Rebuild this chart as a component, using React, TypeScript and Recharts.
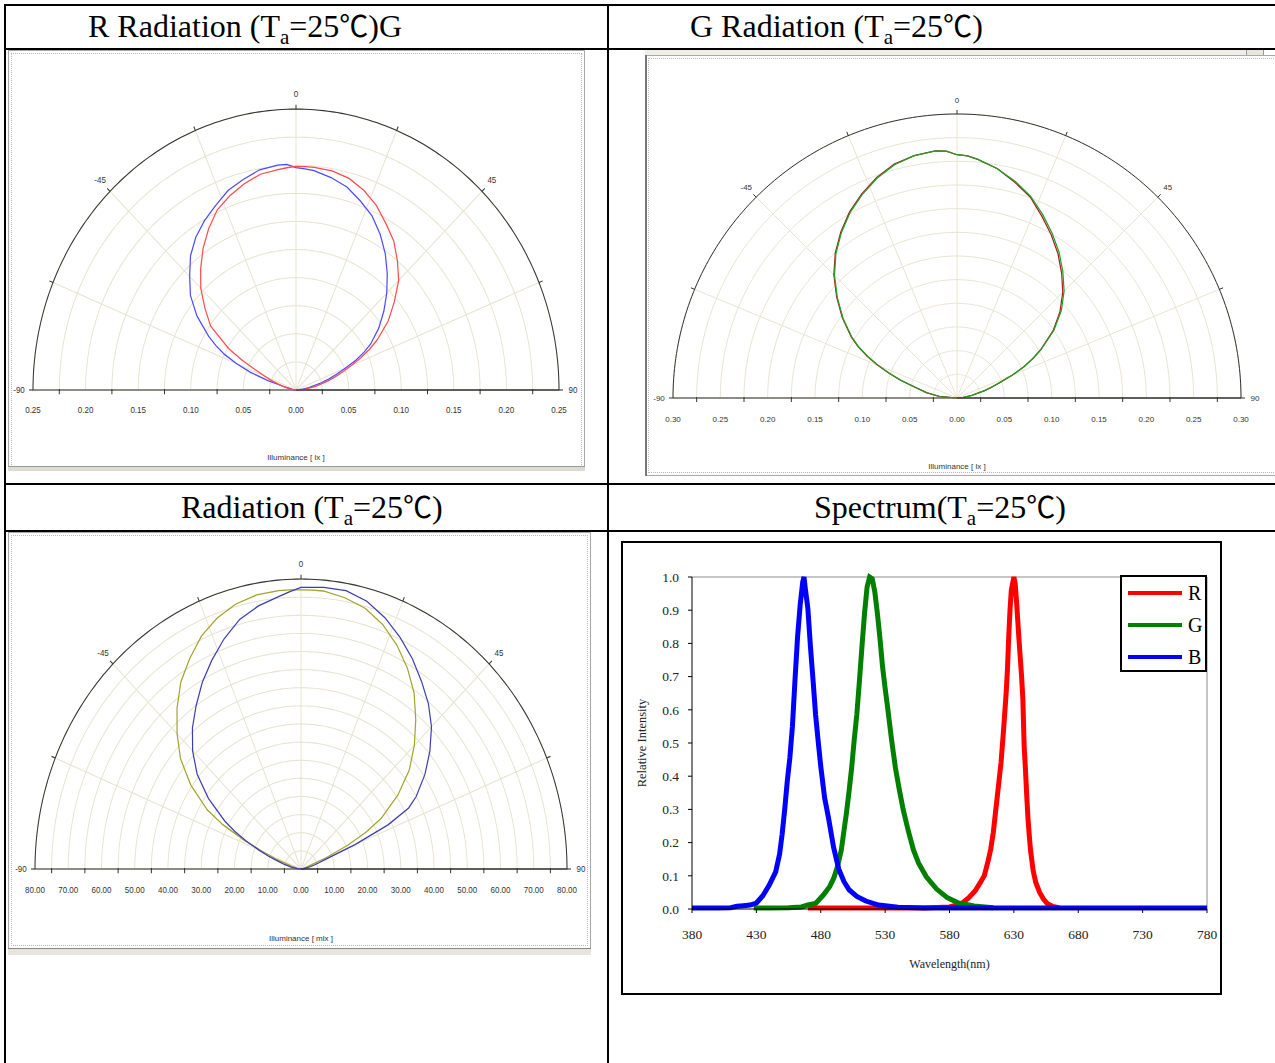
import React from "react";
import {
  RadarChart, Radar, PolarGrid, PolarAngleAxis, PolarRadiusAxis,
  LineChart, Line, XAxis, YAxis, ReferenceLine, Legend, Label,
} from "recharts";

// ---------------- Polar radiation data (angle in degrees, 0 = on-axis) ----------------
const ANGLES = [-90, -85, -80, -75, -72.5, -70, -67.5, -65, -62.5, -60, -55, -50, -45, -40, -35, -30, -25, -20, -15, -10, -5, -2.5, 0, 2.5, 5, 10, 15, 20, 25, 30, 35, 40, 45, 50, 55, 60, 62.5, 65, 67.5, 70, 72.5, 75, 80, 85, 90];

// Panel "R Radiation" (lx)
const R_PANEL_RED = [0, 0.003, 0.007, 0.014, 0.018, 0.025, 0.032, 0.043, 0.058, 0.074, 0.099, 0.113, 0.128, 0.141, 0.154, 0.166, 0.177, 0.184, 0.19, 0.195, 0.197, 0.198, 0.199, 0.199, 0.199, 0.198, 0.195, 0.189, 0.181, 0.171, 0.162, 0.15, 0.138, 0.122, 0.107, 0.089, 0.079, 0.068, 0.057, 0.047, 0.039, 0.032, 0.019, 0.009, 0];
const R_PANEL_BLUE = [0, 0.002, 0.004, 0.012, 0.028, 0.046, 0.061, 0.075, 0.086, 0.096, 0.115, 0.131, 0.143, 0.156, 0.166, 0.174, 0.181, 0.189, 0.194, 0.199, 0.201, 0.201, 0.198, 0.197, 0.196, 0.192, 0.187, 0.179, 0.171, 0.16, 0.148, 0.135, 0.122, 0.109, 0.096, 0.082, 0.073, 0.063, 0.051, 0.041, 0.033, 0.025, 0.013, 0.005, 0];

// Panel "G Radiation" (lx)
const G_PANEL_RED = [0, 0.019, 0.033, 0.049, 0.063, 0.076, 0.091, 0.105, 0.118, 0.129, 0.148, 0.166, 0.184, 0.2, 0.214, 0.227, 0.238, 0.248, 0.256, 0.26, 0.262, 0.261, 0.257, 0.256, 0.253, 0.246, 0.236, 0.226, 0.212, 0.199, 0.186, 0.172, 0.158, 0.142, 0.124, 0.102, 0.09, 0.078, 0.063, 0.049, 0.039, 0.031, 0.016, 0.006, 0];
const G_PANEL_GREEN = [0, 0.018, 0.032, 0.047, 0.062, 0.075, 0.09, 0.104, 0.117, 0.128, 0.147, 0.165, 0.183, 0.199, 0.213, 0.226, 0.237, 0.247, 0.255, 0.26, 0.262, 0.261, 0.257, 0.256, 0.253, 0.246, 0.237, 0.227, 0.214, 0.201, 0.188, 0.174, 0.16, 0.144, 0.125, 0.103, 0.091, 0.078, 0.064, 0.048, 0.038, 0.03, 0.016, 0.006, 0];

// Panel "Radiation" (mlx)
const MIX_OLIVE = [0, 0.3, 1, 3, 4, 8, 12.5, 19, 26.5, 32.5, 40.5, 47.3, 52.7, 58, 63, 67, 70.9, 73.7, 75.7, 76.8, 77.1, 77.1, 77, 77, 77, 76, 74.5, 71.8, 68.2, 64, 59.3, 53.7, 48.2, 42.5, 35.6, 27.8, 22, 15.5, 8.3, 3.5, 2, 1, 0.5, 0.2, 0];
const MIX_BLUE = [0, 1.2, 3, 5.5, 7.3, 10.5, 13.8, 18, 22.5, 26.5, 34, 40.8, 46.1, 50.8, 55, 59.4, 63.5, 67.6, 71.3, 73.7, 75.5, 76.6, 77.7, 77.8, 78, 78, 76.5, 73.8, 70.5, 67, 63.2, 59.6, 55.5, 50.6, 45.5, 40, 36.5, 29, 17.6, 8, 5.5, 4, 2, 0.8, 0];

// Axis ticks for the polar panels
const ANGLE_TICKS = [-90, -67.5, -45, -22.5, 0, 22.5, 45, 67.5, 90];
const R_TICKS_025 = [0, 0.025, 0.05, 0.075, 0.1, 0.125, 0.15, 0.175, 0.2, 0.225, 0.25];
const R_TICKS_030 = [0, 0.025, 0.05, 0.075, 0.1, 0.125, 0.15, 0.175, 0.2, 0.225, 0.25, 0.275, 0.3];
const R_TICKS_80 = [0, 5, 10, 15, 20, 25, 30, 35, 40, 45, 50, 55, 60, 65, 70, 75, 80];

// ---------------- Spectrum data ----------------
const BLUE_NM = [380, 400, 410, 415, 420, 425, 430, 435, 440, 445, 448, 450, 452, 454, 456, 458, 460, 462, 464, 466, 467, 468, 470, 472, 474, 476, 478, 480, 483, 486, 490, 494, 498, 502, 508, 515, 525, 540, 560, 600, 650, 700, 780];
const BLUE_I = [0.003, 0.003, 0.004, 0.008, 0.01, 0.012, 0.018, 0.04, 0.072, 0.112, 0.165, 0.225, 0.3, 0.385, 0.455, 0.55, 0.69, 0.82, 0.915, 0.985, 1.0, 0.965, 0.905, 0.79, 0.69, 0.585, 0.505, 0.43, 0.335, 0.275, 0.185, 0.12, 0.083, 0.058, 0.038, 0.024, 0.012, 0.005, 0.003, 0.003, 0.003, 0.003, 0.003];
const GREEN_NM = [428, 440, 455, 465, 470, 476, 482, 487, 490, 493, 496, 498, 500, 502, 504, 506, 508, 510, 512, 514, 516, 518, 520, 522, 524, 526, 528, 530, 532, 535, 538, 541, 544, 548, 552, 556, 562, 570, 578, 587, 599, 614];
const GREEN_I = [0.003, 0.003, 0.004, 0.006, 0.012, 0.017, 0.042, 0.068, 0.092, 0.128, 0.178, 0.235, 0.29, 0.355, 0.425, 0.51, 0.585, 0.685, 0.79, 0.89, 0.97, 1.0, 0.995, 0.955, 0.89, 0.815, 0.73, 0.665, 0.605, 0.51, 0.425, 0.36, 0.3, 0.235, 0.178, 0.138, 0.097, 0.06, 0.035, 0.018, 0.009, 0.004];
const RED_NM = [470, 500, 530, 560, 580, 586, 590, 595, 600, 604, 607, 610, 612, 614, 616, 618, 620, 622, 624, 625, 626, 627, 628, 630, 631, 632, 634, 636, 637, 638, 639, 640, 641, 642, 643, 645, 647, 650, 653, 656, 660, 665];
const RED_I = [0.003, 0.003, 0.003, 0.003, 0.006, 0.012, 0.018, 0.034, 0.055, 0.08, 0.1, 0.145, 0.18, 0.23, 0.3, 0.37, 0.44, 0.54, 0.65, 0.72, 0.82, 0.9, 0.96, 1.0, 0.98, 0.93, 0.81, 0.7, 0.63, 0.49, 0.42, 0.34, 0.27, 0.22, 0.175, 0.115, 0.08, 0.05, 0.03, 0.016, 0.008, 0.004];
const X_TICKS = [380, 430, 480, 530, 580, 630, 680, 730, 780];
const Y_TICKS = [0, 0.1, 0.2, 0.3, 0.4, 0.5, 0.6, 0.7, 0.8, 0.9, 1.0];
const LEGEND_ORDER = ["R", "G", "B"];

// ---------------- Styling constants ----------------
const SERIF = '"Liberation Serif", "Times New Roman", "DejaVu Serif", "Noto Sans CJK TC", serif';
const SANS = '"Liberation Sans", Arial, sans-serif';
const CJK = '"Noto Sans CJK TC", "Noto Sans CJK JP", "DejaVu Serif", serif';
const GRID = "#e8e4d2";
const FINE_ANGLES = Array.from({ length: 181 }, (_, i) => i);

const panel1 = ANGLES.map((a, i) => ({ angle: a, red: R_PANEL_RED[i], blue: R_PANEL_BLUE[i] }));
const panel2 = ANGLES.map((a, i) => ({ angle: a, red: G_PANEL_RED[i], green: G_PANEL_GREEN[i] }));
const panel3 = ANGLES.map((a, i) => ({ angle: a, olive: MIX_OLIVE[i], blue: MIX_BLUE[i] }));
const redSpec = RED_NM.map((nm, i) => ({ nm, v: RED_I[i] }));
const greenSpec = GREEN_NM.map((nm, i) => ({ nm, v: GREEN_I[i] }));
const blueSpec = BLUE_NM.map((nm, i) => ({ nm, v: BLUE_I[i] }));

const angleTick = (dist: number) => (props: any) => {
  const { x, y, payload } = props;
  const v = payload.value;
  if (v % 45 !== 0) return <g />;
  const a = ((90 - v) * Math.PI) / 180;
  return (
    <text x={x + Math.cos(a) * dist} y={y - Math.sin(a) * dist} textAnchor="middle" dominantBaseline="central"
      fontSize={8} fill="#333" fontFamily={SANS}>{v}</text>
  );
};

// radius axis tick: drawn on the right half and mirrored about the centre onto the left half
const radiusTick = (step: number, dy: number, cx: number) => (props: any) => {
  const { x, y, payload } = props;
  const v = payload.value;
  const k = Math.round(v / step);
  const xs = v === 0 ? [x] : [x, 2 * cx - x];
  if (k % 2 === 1) {
    return (
      <g>
        {xs.map((xx, i) => <line key={i} x1={xx} y1={y - 1} x2={xx} y2={y + 4} stroke="#333" strokeWidth={1} />)}
      </g>
    );
  }
  return (
    <g>
      {xs.map((xx, i) => (
        <text key={i} x={xx} y={y + dy} textAnchor="middle" dominantBaseline="central" fontSize={8} fill="#333" fontFamily={SANS}>
          {v.toFixed(2)}
        </text>
      ))}
    </g>
  );
};

type Series = { key: string; color: string };
type PanelProps = {
  left: number; top: number; width: number; height: number;
  cx: number; cy: number; radius: number; stretch: number;
  max: number; ticks: number[]; step: number; labelDy: number;
  data: any[]; series: Series[];
};

function PolarPanel(p: PanelProps) {
  return (
    <div style={{ position: "absolute", left: p.left, top: p.top, width: p.width, height: p.height, transform: `scaleY(${p.stretch})`, transformOrigin: `${p.cx}px ${p.cy}px` }}>
      <RadarChart width={p.width} height={p.height} data={p.data} cx={p.cx} cy={p.cy} innerRadius={0} outerRadius={p.radius}
        startAngle={180} endAngle={0} margin={{ top: 0, right: 0, bottom: 0, left: 0 }}>
        <PolarGrid gridType="polygon" polarAngles={FINE_ANGLES} radialLines={false} stroke={GRID} />
        <PolarGrid gridType="polygon" polarRadius={[]} stroke={GRID} />
        <PolarGrid gridType="polygon" polarAngles={FINE_ANGLES} polarRadius={[p.radius]} radialLines={false} stroke="#333" />
        <PolarAngleAxis dataKey="angle" type="number" domain={[-90, 90]} ticks={ANGLE_TICKS} axisLine={false}
          tickLine={{ stroke: "#333" }} tickSize={4} tick={angleTick(10)} />
        <PolarRadiusAxis angle={0} type="number" domain={[0, p.max]} ticks={p.ticks} axisLine={{ stroke: "#333" }}
          tick={radiusTick(p.step, p.labelDy, p.cx)} />
        {p.series.map((s) => (
          <Radar key={s.key} dataKey={s.key} stroke={s.color} strokeWidth={1.2} fill="none" fillOpacity={0}
            dot={false} isAnimationActive={false} />
        ))}
      </RadarChart>
    </div>
  );
}

function WinFrame({ left, top, width, height }: { left: number; top: number; width: number; height: number }) {
  return (
    <div style={{ position: "absolute", left, top, width, height, boxSizing: "border-box", border: "1px solid #a8a8a8", background: "#fff" }}>
      <div style={{ position: "absolute", left: 2, top: 2, right: 2, bottom: 2, border: "1px dotted #b8b8b8" }} />
    </div>
  );
}

function AxisTitle({ x, y, text }: { x: number; y: number; text: string }) {
  return (
    <div style={{ position: "absolute", left: x, top: y, transform: "translate(-50%, -50%)", fontFamily: SANS, fontSize: 8, color: "#333", whiteSpace: "nowrap" }}>
      {text}
    </div>
  );
}

const HEADERS = [
  { x: 88, y: 37, pre: "R Radiation (T", post: "=25", tail: ")G" },
  { x: 690, y: 37, pre: "G Radiation (T", post: "=25", tail: ")" },
  { x: 181, y: 518, pre: "Radiation (T", post: "=25", tail: ")" },
  { x: 814, y: 518, pre: "Spectrum(T", post: "=25", tail: ")" },
];

const renderLegend = (props: any) => {
  const items = [...(props.payload || [])].sort(
    (a: any, b: any) => LEGEND_ORDER.indexOf(a.value) - LEGEND_ORDER.indexOf(b.value)
  );
  return (
    <div style={{ width: 87, height: 97, boxSizing: "border-box", border: "2px solid #000", background: "#fff", position: "relative" }}>
      {items.map((it: any, i: number) => (
        <div key={i} style={{ position: "absolute", left: 6, top: 6 + i * 32, height: 20, display: "flex", alignItems: "center" }}>
          <div style={{ width: 54, height: 4, background: it.color }} />
          <span style={{ marginLeft: 6, fontFamily: SERIF, fontSize: 20, color: "#000", lineHeight: "20px" }}>{it.value}</span>
        </div>
      ))}
    </div>
  );
};

const hLine = (top: number) => ({ position: "absolute" as const, left: 4, top, width: 1271, height: 2, background: "#000" });
const vLine = (left: number) => ({ position: "absolute" as const, left, top: 4, width: 2, height: 1059, background: "#000" });

export default function App() {
  return (
    <div style={{ position: "absolute", left: 0, top: 0, width: 1275, height: 1063, overflow: "hidden", background: "#fff" }}>
      {/* chart windows */}
      <WinFrame left={8} top={50} width={577} height={420} />
      <div style={{ position: "absolute", left: 8, top: 466, width: 577, height: 4, background: "#dcdad2", borderTop: "1px solid #999" }} />
      <div style={{ position: "absolute", left: 645, top: 50, width: 617, height: 5, background: "#efeee8" }} />
      <div style={{ position: "absolute", left: 1246, top: 49, width: 16, height: 6, border: "1px solid #999", background: "#e8e6df" }} />
      <WinFrame left={645} top={55} width={640} height={421} />
      <div style={{ position: "absolute", left: 645, top: 55, width: 2, height: 421, background: "#777" }} />
      <WinFrame left={8} top={532} width={583} height={417} />
      <div style={{ position: "absolute", left: 8, top: 948, width: 583, height: 6, background: "#e6e4dc", borderTop: "1px solid #888" }} />

      <PolarPanel left={10} top={52} width={570} height={414} cx={286} cy={338} radius={263} stretch={1.068}
        max={0.25} ticks={R_TICKS_025} step={0.025} labelDy={18.7} data={panel1}
        series={[{ key: "blue", color: "#4a4aff" }, { key: "red", color: "#ff4a4a" }]} />
      <AxisTitle x={296} y={457} text="Illuminance [ lx ]" />

      <PolarPanel left={648} top={57} width={625} height={416} cx={309} cy={341} radius={284} stretch={1.0}
        max={0.3} ticks={R_TICKS_030} step={0.025} labelDy={21} data={panel2}
        series={[{ key: "red", color: "#a51c1c" }, { key: "green", color: "#22a022" }]} />
      <AxisTitle x={957} y={466} text="Illuminance [ lx ]" />

      <PolarPanel left={10} top={534} width={578} height={412} cx={291} cy={335} radius={266} stretch={1.09}
        max={80} ticks={R_TICKS_80} step={5} labelDy={19.3} data={panel3}
        series={[{ key: "olive", color: "#a3a32c" }, { key: "blue", color: "#3c3cb4" }]} />
      <AxisTitle x={301} y={938} text="Illuminance [ mlx ]" />

      {/* spectrum */}
      <div style={{ position: "absolute", left: 621, top: 541, width: 601, height: 454, boxSizing: "border-box", border: "2px solid #000" }} />
      <div style={{ position: "absolute", left: 621, top: 541, width: 601, height: 454 }}>
        <LineChart width={601} height={454} margin={{ top: 36, right: 15, bottom: 56, left: 21 }}>
          <XAxis type="number" dataKey="nm" domain={[380, 780]} ticks={X_TICKS} allowDataOverflow height={30}
            tickSize={4} tickMargin={16} axisLine={{ stroke: "#000" }} tickLine={{ stroke: "#000" }}
            tick={{ fontSize: 13.5, fill: "#222", fontFamily: SERIF }}>
            <Label value="Wavelength(nm)" position="bottom" offset={20} style={{ fontSize: 12, fill: "#222", fontFamily: SERIF }} />
          </XAxis>
          <YAxis type="number" domain={[0, 1]} ticks={Y_TICKS} width={50} tickSize={4} tickMargin={9}
            tickFormatter={(v: number) => v.toFixed(1)} axisLine={{ stroke: "#000" }} tickLine={{ stroke: "#000" }}
            tick={{ fontSize: 13.5, fill: "#222", fontFamily: SERIF }}>
            <Label value="Relative Intensity" angle={-90} position="insideLeft" offset={0}
              style={{ textAnchor: "middle", fontSize: 12.5, fill: "#222", fontFamily: SERIF }} />
          </YAxis>
          <ReferenceLine y={1} stroke="#8c8c8c" />
          <ReferenceLine x={780} stroke="#8c8c8c" />
          <Line data={redSpec} dataKey="v" name="R" type="linear" stroke="#ff0000" strokeWidth={5} dot={false} isAnimationActive={false} />
          <Line data={greenSpec} dataKey="v" name="G" type="linear" stroke="#008000" strokeWidth={5} dot={false} isAnimationActive={false} />
          <Line data={blueSpec} dataKey="v" name="B" type="linear" stroke="#0000ff" strokeWidth={5} dot={false} isAnimationActive={false} />
          <Legend layout="vertical" align="center" verticalAlign="middle" content={renderLegend}
            wrapperStyle={{ left: 499, top: 34, width: 87, height: 97 }} />
        </LineChart>
      </div>

      {/* table grid */}
      <div style={hLine(4)} />
      <div style={hLine(48)} />
      <div style={hLine(483)} />
      <div style={hLine(530)} />
      <div style={vLine(4)} />
      <div style={vLine(607)} />

      {/* header texts */}
      <svg width={1275} height={1063} style={{ position: "absolute", left: 0, top: 0, pointerEvents: "none" }}>
        {HEADERS.map((h, i) => (
          <text key={i} x={h.x} y={h.y} fontSize={32} fontFamily={SERIF} fill="#000">
            {h.pre}
            <tspan fontSize={21} dy={7}>a</tspan>
            <tspan dy={-7}>{h.post}</tspan>
            <tspan fontFamily={CJK} fontSize={29}>℃</tspan>
            <tspan>{h.tail}</tspan>
          </text>
        ))}
      </svg>
    </div>
  );
}
